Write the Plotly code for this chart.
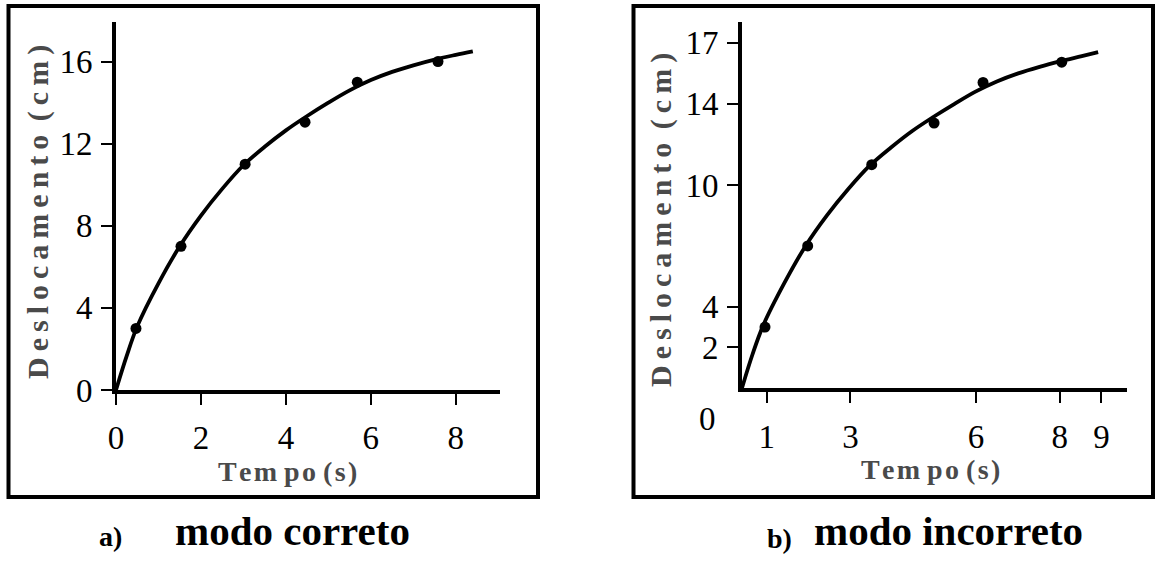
import plotly.graph_objects as go

W, H = 1158, 565

# ---- data: panel a) modo correto ----
a_time = [0.47, 1.53, 3.04, 4.45, 5.68, 7.58]
a_disp = [3.0, 7.0, 11.0, 13.05, 15.0, 16.0]
a_curve_t = [0.0, 0.25, 0.5, 1.0, 1.5, 2.0, 2.5, 3.0, 3.5, 4.0, 4.5, 5.0, 5.5, 6.0, 6.5, 7.0, 7.5, 8.0, 8.4]
a_curve_d = [0.0, 1.65, 3.1, 5.2, 7.0, 8.5, 9.8, 10.95, 11.85, 12.65, 13.35, 14.0, 14.6, 15.1, 15.5, 15.82, 16.1, 16.33, 16.5]
a_xticks = [0, 2, 4, 6, 8]
a_yticks = [0, 4, 8, 12, 16]

# ---- data: panel b) modo incorreto ----
b_time = [0.96, 1.98, 3.51, 5.0, 6.17, 8.05]
b_disp = [3.0, 7.0, 11.0, 13.05, 15.05, 16.05]
b_curve_t = [0.41, 0.66, 0.92, 1.43, 1.93, 2.44, 2.95, 3.46, 3.97, 4.47, 4.98, 5.49, 5.99, 6.5, 7.01, 7.52, 8.03, 8.53, 8.92]
b_curve_d = [0.0, 1.65, 3.1, 5.2, 7.0, 8.5, 9.8, 10.95, 11.85, 12.65, 13.35, 14.0, 14.6, 15.1, 15.5, 15.82, 16.1, 16.35, 16.55]
b_xticks = [1, 3, 6, 8, 9]
b_yticks = [2, 4, 10, 14, 17]

def px(x):
    return x / W

def py(y):
    return 1 - y / H

fig = go.Figure()

line_style = dict(color="black", width=3.8, shape="spline", smoothing=1)
marker_style = dict(color="black", size=11)
fig.add_trace(go.Scatter(x=a_curve_t, y=a_curve_d, mode="lines", line=line_style,
                         xaxis="x", yaxis="y", cliponaxis=False, showlegend=False, hoverinfo="skip"))
fig.add_trace(go.Scatter(x=a_time, y=a_disp, mode="markers", marker=marker_style,
                         xaxis="x", yaxis="y", cliponaxis=False, showlegend=False))
fig.add_trace(go.Scatter(x=b_curve_t, y=b_curve_d, mode="lines", line=line_style,
                         xaxis="x2", yaxis="y2", cliponaxis=False, showlegend=False, hoverinfo="skip"))
fig.add_trace(go.Scatter(x=b_time, y=b_disp, mode="markers", marker=marker_style,
                         xaxis="x2", yaxis="y2", cliponaxis=False, showlegend=False))

tickfont = dict(family="Liberation Serif, Times New Roman, serif", size=33, color="black")
common = dict(showgrid=False, zeroline=False, showline=True, linecolor="black", linewidth=4,
              ticks="outside", ticklen=11, tickwidth=1.6, tickcolor="black", tickfont=tickfont,
              fixedrange=True, automargin=False)

fig.update_layout(
    width=W, height=H, autosize=False,
    margin=dict(l=0, r=0, t=0, b=0, pad=0),
    paper_bgcolor="white", plot_bgcolor="white",
    xaxis=dict(domain=[px(116), px(500)], range=[0, 9.04], tickvals=a_xticks, anchor="y",
               ticklabelstandoff=4, **common),
    yaxis=dict(domain=[py(390), py(22)], range=[0, 17.93], tickvals=a_yticks, anchor="x",
               ticklabelstandoff=2, **common),
    xaxis2=dict(domain=[px(742), px(1127)], range=[0.41, 9.61], tickvals=b_xticks, anchor="y2",
                ticklabelstandoff=5, **common),
    yaxis2=dict(domain=[py(388), py(22)], range=[0, 18.03], tickvals=b_yticks, anchor="x2",
                ticklabelstandoff=2, **common),
)

# boxes
for (x0, x1) in [(8.5, 538), (633.5, 1153)]:
    fig.add_shape(type="rect", xref="paper", yref="paper", x0=px(x0), x1=px(x1), y0=py(497), y1=py(6),
                  line=dict(color="black", width=4), fillcolor="rgba(0,0,0,0)", layer="below")

title_font = dict(family="Liberation Serif, Times New Roman, serif", size=30, color="#4a4a4a")
ts = "\u2009"
hs = "\u200a"
ylab = "<b>" + ts.join("Deslocamento") + " " + ts + ts.join("(cm)") + "</b>"
xlab = "<b>" + hs.join("Tem") + " " + hs.join("po") + " " + hs.join("(s)") + "</b>"

def ann(text, x, y, font, angle=0, xanchor="center"):
    fig.add_annotation(text=text, x=px(x), y=py(y), xref="paper", yref="paper", showarrow=False,
                       font=font, textangle=angle, xanchor=xanchor, yanchor="middle")

ann(ylab, 38, 212, title_font, angle=-90)
ann(ylab, 661, 220, title_font, angle=-90)
ann(xlab, 287, 471, dict(title_font, size=28))
ann(xlab, 930, 469, dict(title_font, size=28))

# origin "0" in panel b
ann("0", 707, 419, tickfont)

cap_font = dict(family="Liberation Serif, Times New Roman, serif", size=41, color="black")
lab_font = dict(family="Liberation Serif, serif", size=28, color="black")
ann("<b>a)</b>", 110, 536, lab_font)
ann("<b>modo correto</b>", 293, 531, cap_font)
ann("<b>b)</b>", 779, 538, lab_font)
ann("<b>modo incorreto</b>", 948, 531, cap_font)

fig.write_html("out.html", config={"displayModeBar": False},
               post_script="document.body.style.margin='0';document.body.style.overflow='hidden';")
